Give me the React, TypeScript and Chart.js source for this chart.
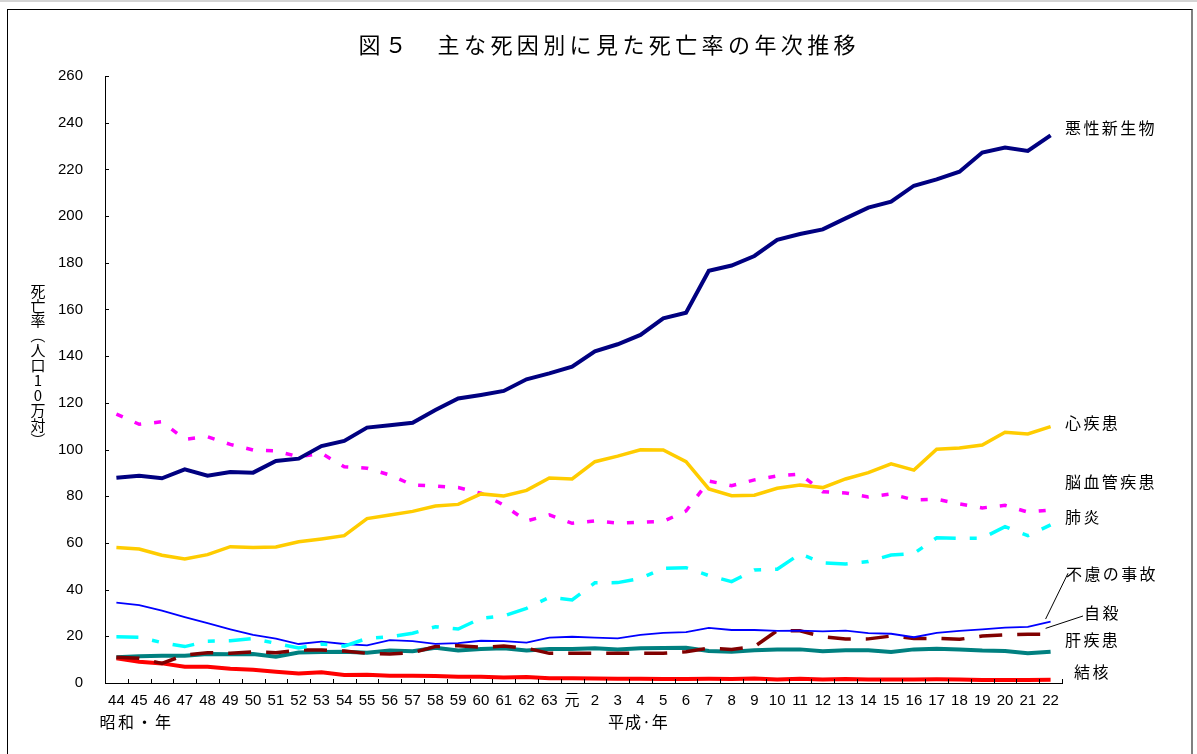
import React, { useEffect, useRef } from "react";
import { Chart, registerables } from "chart.js";

Chart.register(...registerables);

// ---- data ----
const categories = [
  "44", "45", "46", "47", "48", "49", "50", "51", "52", "53", "54", "55", "56", "57", "58", "59", "60", "61", "62", "63",
  "元", "2", "3", "4", "5", "6", "7", "8", "9", "10", "11", "12", "13", "14", "15", "16", "17", "18", "19", "20", "21", "22",
];

const malignant = [
  87.9, 88.8, 87.7, 91.5, 88.8, 90.4, 90.1, 95.1, 96.1, 101.5, 103.7, 109.4, 110.4, 111.5, 116.9, 121.9, 123.4, 125.1, 130.1, 132.6,
  135.5, 142.1, 145.1, 149.1, 156.2, 158.6, 176.6, 178.8, 182.9, 189.8, 192.3, 194.3, 199.0, 203.6, 206.2, 213.0, 215.7, 219.0, 227.2, 229.4, 227.9, 234.6,
];
const heart = [
  58.0, 57.4, 54.7, 53.1, 55.0, 58.4, 58.0, 58.3, 60.5, 61.7, 63.1, 70.4, 72.0, 73.5, 75.8, 76.5, 81.0, 80.1, 82.5, 87.8,
  87.4, 94.8, 97.2, 99.9, 99.8, 94.8, 83.1, 80.2, 80.4, 83.4, 84.8, 83.7, 87.4, 90.1, 93.9, 91.2, 100.1, 100.7, 101.9, 107.4, 106.7, 109.8,
];
const cerebro = [
  115.2, 110.8, 111.9, 104.4, 105.5, 102.2, 99.8, 99.4, 96.9, 98.4, 92.6, 92.0, 89.1, 84.8, 84.4, 83.7, 81.3, 76.2, 69.4, 72.0,
  68.4, 69.4, 68.5, 68.8, 69.2, 73.7, 86.5, 84.5, 87.0, 88.7, 89.5, 81.9, 81.4, 79.7, 81.0, 78.4, 78.7, 76.7, 75.0, 76.1, 73.2, 74.1,
];
const pneumonia = [
  19.8, 19.6, 17.3, 15.6, 17.9, 18.1, 19.0, 17.0, 15.0, 16.7, 15.8, 19.1, 19.8, 21.3, 24.1, 23.1, 27.7, 28.7, 32.0, 36.7,
  35.6, 42.9, 43.0, 44.8, 49.1, 49.4, 46.0, 43.4, 48.4, 48.7, 55.3, 51.5, 51.0, 52.0, 54.8, 55.5, 62.2, 62.0, 62.0, 67.0, 63.1, 67.7,
];
const accident = [
  34.4, 33.4, 31.0, 28.2, 25.6, 23.0, 20.6, 19.0, 16.7, 17.7, 16.7, 16.1, 18.4, 17.9, 16.8, 17.1, 18.1, 17.9, 17.3, 19.4,
  19.8, 19.4, 19.1, 20.6, 21.5, 21.8, 23.6, 22.7, 22.7, 22.3, 22.4, 22.1, 22.4, 21.4, 21.1, 19.6, 21.5, 22.3, 23.0, 23.7, 24.0, 26.3,
];
const suicide = [
  11.0, 10.6, 8.4, 12.0, 13.0, 12.7, 13.3, 13.0, 14.1, 14.1, 13.7, 12.7, 12.4, 13.0, 15.6, 16.0, 15.3, 15.8, 14.9, 12.7,
  12.7, 12.7, 12.7, 12.8, 12.7, 13.4, 14.9, 14.4, 15.6, 22.4, 22.4, 19.8, 18.8, 18.9, 20.1, 19.1, 19.1, 18.7, 20.1, 20.6, 20.9, 20.9,
];
const liver = [
  11.0, 11.5, 11.7, 11.7, 12.4, 12.3, 12.4, 11.3, 13.1, 13.3, 13.4, 13.0, 13.9, 13.6, 15.1, 13.9, 14.6, 14.9, 13.9, 14.6,
  14.6, 14.9, 14.3, 14.9, 15.0, 15.1, 13.7, 13.4, 14.0, 14.4, 14.4, 13.6, 14.0, 14.0, 13.3, 14.4, 14.7, 14.4, 13.9, 13.7, 12.7, 13.4,
];
const tuberculosis = [
  10.6, 9.1, 8.4, 7.0, 7.0, 6.1, 5.7, 4.8, 4.1, 4.6, 3.4, 3.5, 3.1, 3.1, 3.0, 2.7, 2.7, 2.4, 2.6, 2.0,
  2.0, 1.9, 1.8, 1.8, 1.7, 1.7, 1.8, 1.7, 1.9, 1.5, 1.8, 1.5, 1.7, 1.5, 1.5, 1.5, 1.6, 1.5, 1.3, 1.3, 1.3, 1.4,
];

const yMin = 0;
const yMax = 260;
const yStep = 20;

const titleText = "図５　主な死因別に見た死亡率の年次推移";
const yAxisTitle = "死亡率（人口10万対）";
const eraShowa = "昭和・年";
const eraHeisei = "平成·年";

// label texts and their anchor values (data units)
const seriesLabelTexts = ["悪性新生物", "心疾患", "脳血管疾患", "肺炎", "不慮の事故", "自殺", "肝疾患", "結核"];
const seriesLabelValues = [237.7, 111.4, 86.1, 71.1, 46.7, 30.0, 18.4, 4.7];

const JP = '"Noto Sans CJK JP", sans-serif';
const NUM = '"Liberation Sans", Arial, "Noto Sans CJK JP", sans-serif';

function drawSpaced(ctx: CanvasRenderingContext2D, text: string, x: number, y: number, spacing: number, align: "left" | "center" = "left") {
  const chars = Array.from(text);
  const widths = chars.map((c) => ctx.measureText(c).width);
  const total = widths.reduce((a, b) => a + b, 0) + spacing * (chars.length - 1);
  let cx = align === "center" ? x - total / 2 : x;
  ctx.textAlign = "left";
  chars.forEach((c, i) => {
    ctx.fillText(c, cx, y);
    cx += widths[i] + spacing;
  });
}

const decorPlugin = {
  id: "decor",
  afterDraw(chart: any) {
    const ctx: CanvasRenderingContext2D = chart.ctx;
    const xs = chart.scales.x;
    const ys = chart.scales.y;
    const area = chart.chartArea;
    ctx.save();

    // inward tick marks
    ctx.strokeStyle = "#000";
    ctx.lineWidth = 1;
    ctx.beginPath();
    for (let v = yMin; v <= yMax; v += yStep) {
      const y = Math.round(ys.getPixelForValue(v)) + 0.5;
      ctx.moveTo(area.left, y);
      ctx.lineTo(area.left + 4, y);
    }
    const step = xs.getPixelForValue(1) - xs.getPixelForValue(0);
    for (let i = 0; i < categories.length; i++) {
      const x = Math.round(xs.getPixelForValue(i) + step / 2) + 0.5;
      ctx.moveTo(x, area.bottom);
      ctx.lineTo(x, area.bottom - 4);
    }
    ctx.stroke();

    // title
    ctx.fillStyle = "#000";
    ctx.textBaseline = "middle";
    ctx.font = `22px ${JP}`;
    drawSpaced(ctx, titleText, 607, 45, 4.4, "center");

    // y-axis vertical title
    ctx.font = `15px ${JP}`;
    const chars = Array.from(yAxisTitle);
    const pitch = 14.9;
    const cy = ys.getPixelForValue(136);
    const startY = cy - (pitch * (chars.length - 1)) / 2;
    chars.forEach((c, i) => {
      const y = startY + i * pitch;
      if (c === "（" || c === "）") {
        ctx.save();
        ctx.translate(38, y);
        ctx.rotate(Math.PI / 2);
        ctx.textAlign = "center";
        ctx.fillText(c, 0, 0);
        ctx.restore();
      } else {
        ctx.textAlign = "center";
        ctx.fillText(c, 38, y);
      }
    });

    // era labels
    ctx.font = `16px ${JP}`;
    drawSpaced(ctx, eraShowa, xs.getPixelForValue(0) - 17, 722, 2.5);
    drawSpaced(ctx, eraHeisei, xs.getPixelForValue(21) + 13, 722, 1);

    // series labels
    const dxs = [3, 3, 3, 3, 4, 22, 3, 12];
    seriesLabelTexts.forEach((t, i) => {
      drawSpaced(ctx, t, area.right + dxs[i], ys.getPixelForValue(seriesLabelValues[i]), 2.4);
    });

    // leader lines
    const last = categories.length - 1;
    const xl = xs.getPixelForValue(last);
    ctx.strokeStyle = "#000";
    ctx.lineWidth = 1;
    ctx.beginPath();
    ctx.moveTo(xl - 5, ys.getPixelForValue(27.4));
    ctx.lineTo(area.right + 6, ys.getPixelForValue(47.0));
    ctx.moveTo(xl - 5, ys.getPixelForValue(23.4));
    ctx.lineTo(area.right + 21, ys.getPixelForValue(28.7));
    ctx.stroke();

    ctx.restore();
  },
};

export default function App() {
  const canvasRef = useRef<HTMLCanvasElement | null>(null);

  useEffect(() => {
    document.body.style.margin = "0";
    const canvas = canvasRef.current;
    if (!canvas) return;
    const mk = (label: string, data: number[], color: string, width: number, dash: number[] = []) => ({
      label,
      data,
      borderColor: color,
      backgroundColor: color,
      borderWidth: width,
      borderDash: dash,
      pointRadius: 0,
      pointHoverRadius: 0,
      tension: 0,
      fill: false,
    });
    const chart = new Chart(canvas, {
      type: "line",
      data: {
        labels: categories,
        datasets: [
          mk("悪性新生物", malignant, "#000080", 4),
          mk("心疾患", heart, "#FFCC00", 3.5),
          mk("脳血管疾患", cerebro, "#FF00FF", 3.5, [7, 13]),
          mk("肺炎", pneumonia, "#00FFFF", 3.5, [22, 14, 7, 14]),
          mk("不慮の事故", accident, "#0000FF", 1.8),
          mk("自殺", suicide, "#800000", 3.5, [23, 15]),
          mk("肝疾患", liver, "#008080", 4),
          mk("結核", tuberculosis, "#FF0000", 4),
        ],
      },
      options: {
        responsive: false,
        animation: false,
        events: [],
        layout: { padding: { left: 0, right: 135, top: 76, bottom: 0 } },
        plugins: {
          legend: { display: false },
          tooltip: { enabled: false },
          title: { display: false },
        },
        scales: {
          x: {
            type: "category",
            offset: true,
            grid: { display: false, drawOnChartArea: false, drawTicks: false },
            border: { display: true, color: "#000", width: 1 },
            ticks: {
              color: "#000",
              font: { family: NUM, size: 15 },
              padding: 9,
              autoSkip: false,
              maxRotation: 0,
              minRotation: 0,
            },
            afterFit: (scale: any) => {
              scale.height = 71;
            },
          },
          y: {
            min: yMin,
            max: yMax,
            grid: { display: false, drawOnChartArea: false, drawTicks: false },
            border: { display: true, color: "#000", width: 1 },
            ticks: {
              stepSize: yStep,
              color: "#000",
              font: { family: NUM, size: 15 },
              padding: 22,
            },
            afterFit: (scale: any) => {
              scale.width = 105;
            },
          },
        },
      },
      plugins: [decorPlugin],
    } as any);
    return () => chart.destroy();
  }, []);

  return (
    <div style={{ position: "absolute", left: 0, top: 0, width: 1197, height: 754, overflow: "hidden", background: "#fff" }}>
      <div style={{ position: "absolute", left: 0, top: 0, width: 1197, height: 2, background: "#d4d4d4" }} />
      <div
        style={{
          position: "absolute",
          left: 7,
          top: 9,
          width: 1186,
          height: 800,
          borderLeft: "1px solid #000",
          borderTop: "1px solid #000",
          borderRight: "2px solid #808080",
          boxSizing: "border-box",
        }}
      />
      <canvas ref={canvasRef} width={1197} height={754} style={{ position: "absolute", left: 0, top: 0 }} />
    </div>
  );
}
